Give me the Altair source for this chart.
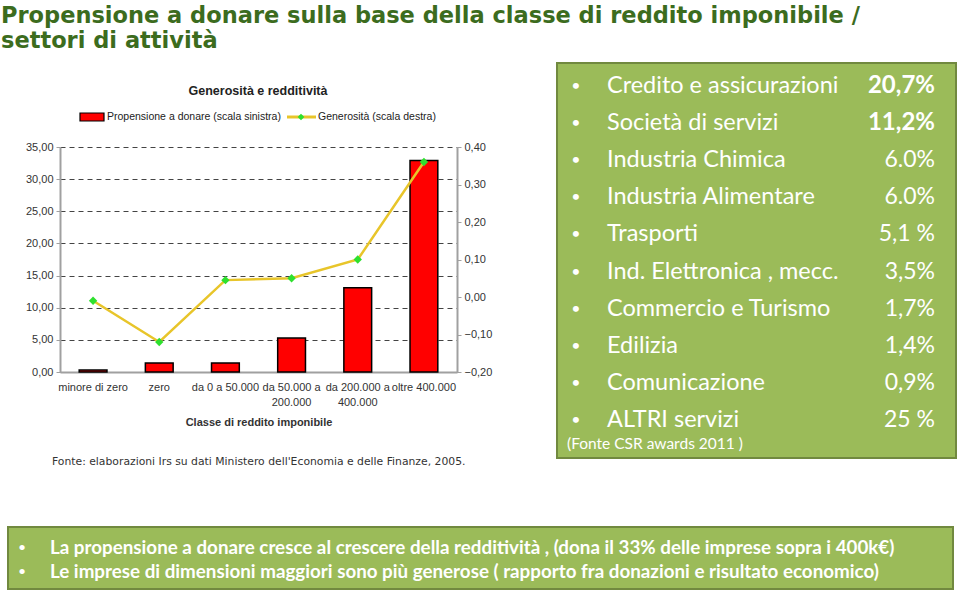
import altair as alt
import pandas as pd

# ---------------- data ----------------
slide_title = ["Propensione a donare sulla base della classe di reddito imponibile /",
               "settori di attività"]
chart_title = "Generosità e redditività"
legend_labels = ["Propensione a donare (scala sinistra)", "Generosità (scala destra)"]
categories = ["minore di zero", "zero", "da 0 a 50.000", "da 50.000 a 200.000",
              "da 200.000 a 400.000", "oltre 400.000"]
propensione = [0.3, 1.4, 1.4, 5.3, 13.1, 32.9]
generosita = [-0.01, -0.12, 0.045, 0.05, 0.10, 0.36]
x_title = "Classe di reddito imponibile"
left_ticks = [0, 5, 10, 15, 20, 25, 30, 35]
right_ticks = [-0.2, -0.1, 0.0, 0.1, 0.2, 0.3, 0.4]
chart_source = "Fonte: elaborazioni Irs su dati  Ministero dell'Economia e delle Finanze, 2005."

sectors = ["Credito e assicurazioni", "Società di servizi", "Industria Chimica",
           "Industria Alimentare", "Trasporti", "Ind. Elettronica , mecc.",
           "Commercio e Turismo", "Edilizia", "Comunicazione", "ALTRI servizi"]
sector_values = ["20,7%", "11,2%", "6.0%", "6.0%", "5,1 %", "3,5%", "1,7%", "1,4%", "0,9%", "25 %"]
sector_bold = [True, True, False, False, False, False, False, False, False, False]
sector_source = "(Fonte CSR awards 2011 )"

notes = ["La propensione a donare  cresce al crescere della redditività , (dona il 33% delle  imprese sopra i 400k€)",
         "Le imprese di dimensioni maggiori sono più generose  ( rapporto fra donazioni e risultato economico)"]

# ---------------- styles ----------------
GREEN_TITLE = "#3C6C1E"
BOX_FILL = "#9BBB59"
BOX_STROKE = "#71893F"
ARIAL = "Liberation Sans"
CAL = "Lato"

one = pd.DataFrame({"k": [0]})
num_fmt = "replace(format(datum.value, '.2f'), '.', ',')"

# ---------------- chart ----------------
df = pd.DataFrame({"cat": categories, "prop": propensione, "gen": generosita})

x_enc = alt.X(
    "cat:N", sort=categories,
    scale=alt.Scale(domain=categories, range=[60, 457], paddingInner=0.58, paddingOuter=0.29),
    axis=alt.Axis(
        title=x_title, orient="bottom", offset=-221, labelAngle=0,
        labelExpr="length(datum.label) > 14 ? [slice(datum.label, 0, lastindexof(datum.label, ' ')), slice(datum.label, lastindexof(datum.label, ' ') + 1)] : datum.label",
        labelFont=ARIAL, labelFontSize=11, labelColor="#333", labelPadding=9,
        labelLineHeight=15, tickSize=0, domainColor="#A0A0A0", domainWidth=2,
        titleFont=ARIAL, titleFontSize=11, titleFontWeight="bold", titleColor="#333",
        titlePadding=9, grid=False, labelLimit=200),
)

bars = alt.Chart(df).mark_bar(color="#FF0000", stroke="#000000", strokeWidth=1.5).encode(
    x=x_enc,
    y=alt.Y("prop:Q",
            scale=alt.Scale(domain=[0, 35], range=[372, 147], nice=False, zero=False),
            axis=alt.Axis(orient="left", offset=-60, values=left_ticks, labelExpr=num_fmt,
                          grid=True, gridDash=[5, 4], gridColor="#444", gridWidth=1,
                          domainColor="#A0A0A0", domainWidth=2, tickColor="#A0A0A0",
                          tickSize=4, labelFont=ARIAL, labelFontSize=11, labelColor="#333",
                          labelPadding=3, title=None)),
)

gen_y = alt.Y("gen:Q",
              scale=alt.Scale(domain=[-0.2, 0.4], range=[372, 147], nice=False, zero=False),
              axis=alt.Axis(orient="right", offset=-503, values=right_ticks, labelExpr=num_fmt,
                            grid=False, domainColor="#A0A0A0", domainWidth=2,
                            tickColor="#A0A0A0", tickSize=4, labelFont=ARIAL, labelFontSize=11,
                            labelColor="#333", labelPadding=3, title=None))

line = alt.Chart(df).mark_line(color="#E8C52A", strokeWidth=2.5).encode(x=alt.X("cat:N", sort=categories), y=gen_y)
pts = alt.Chart(df).mark_point(shape="diamond", filled=True, color="#2EE02E", size=70, opacity=1).encode(
    x=alt.X("cat:N", sort=categories), y=alt.Y("gen:Q"))

chart = alt.layer(bars, alt.layer(line, pts)).resolve_scale(y="independent")

ctitle = alt.Chart(one).mark_text(font=ARIAL, fontSize=12.5, fontWeight="bold", color="#222",
                                  align="center", baseline="middle").encode(
    x=alt.value(258), y=alt.value(91), text=alt.value(chart_title))

leg_rect = alt.Chart(one).mark_rect(fill="#FF0000", stroke="#000", strokeWidth=1.2).encode(
    x=alt.value(80), x2=alt.value(104), y=alt.value(113), y2=alt.value(121))
leg_t1 = alt.Chart(one).mark_text(font=ARIAL, fontSize=10.5, color="#222", align="left",
                                  baseline="middle").encode(
    x=alt.value(107), y=alt.value(117), text=alt.value(legend_labels[0]))
leg_line = alt.Chart(one).mark_rule(color="#E8C52A", strokeWidth=3).encode(
    x=alt.value(287), x2=alt.value(316), y=alt.value(117))
leg_pt = alt.Chart(one).mark_point(shape="diamond", filled=True, color="#2EE02E", size=45, opacity=1).encode(
    x=alt.value(301), y=alt.value(117))
leg_t2 = alt.Chart(one).mark_text(font=ARIAL, fontSize=10.5, color="#222", align="left",
                                  baseline="middle").encode(
    x=alt.value(318), y=alt.value(117), text=alt.value(legend_labels[1]))

csource = alt.Chart(one).mark_text(font="DejaVu Sans", fontSize=10.8, color="#333", align="left",
                                   baseline="middle").encode(
    x=alt.value(52), y=alt.value(462), text=alt.value(chart_source))

# ---------------- slide title ----------------
stitle = alt.Chart(one).mark_text(font="DejaVu Sans", fontSize=22.5, fontWeight="bold",
                                  color=GREEN_TITLE, align="left", baseline="alphabetic",
                                  lineHeight=25).encode(
    x=alt.value(1), y=alt.value(23), text=alt.value(slide_title))

# ---------------- right box ----------------
rbox = alt.Chart(one).mark_rect(fill=BOX_FILL, stroke=BOX_STROKE, strokeWidth=2).encode(
    x=alt.value(557), x2=alt.value(956), y=alt.value(63), y2=alt.value(458))

sec_df = pd.DataFrame({"row": list(range(len(sectors))), "label": sectors,
                       "value": sector_values, "bold": sector_bold})
row_y = alt.Y("row:Q", scale=alt.Scale(domain=[0, 9], range=[86, 420], nice=False, zero=False), axis=None)
sec_base = alt.Chart(sec_df)
s_bul = sec_base.mark_text(text="•", font=CAL, fontSize=16, color="white", align="center",
                           baseline="middle").encode(x=alt.value(576), y=row_y)
s_lab = sec_base.mark_text(font=CAL, fontSize=23.5, color="white", align="left",
                           baseline="middle").encode(x=alt.value(607), y=row_y, text="label:N")
s_val = sec_base.transform_filter("!datum.bold").mark_text(
    font=CAL, fontSize=23, color="white", align="right", baseline="middle").encode(
    x=alt.value(935), y=row_y, text="value:N")
s_valb = sec_base.transform_filter("datum.bold").mark_text(
    font=CAL, fontSize=24, fontWeight="bold", color="white", align="right", baseline="middle").encode(
    x=alt.value(935), y=row_y, text="value:N")
sectors_layer = alt.layer(s_bul, s_lab, s_val, s_valb)

ssource = alt.Chart(one).mark_text(font=CAL, fontSize=15.5, color="white", align="left",
                                   baseline="middle").encode(
    x=alt.value(567), y=alt.value(444), text=alt.value(sector_source))

# ---------------- bottom box ----------------
bbox = alt.Chart(one).mark_rect(fill=BOX_FILL, stroke=BOX_STROKE, strokeWidth=2).encode(
    x=alt.value(8), x2=alt.value(953), y=alt.value(527), y2=alt.value(589))
notes_df = pd.DataFrame({"row": [0, 1], "note": notes})
note_y = alt.Y("row:Q", scale=alt.Scale(domain=[0, 1], range=[548, 572], nice=False, zero=False), axis=None)
n_bul = alt.Chart(notes_df).mark_text(text="•", font=CAL, fontSize=14, color="white",
                                      align="center", baseline="middle").encode(x=alt.value(22), y=note_y)
n_txt = alt.Chart(notes_df).mark_text(font=CAL, fontSize=18.8, fontWeight="bold", color="white",
                                      align="left", baseline="middle").encode(
    x=alt.value(50), y=note_y, text="note:N")
notes_layer = alt.layer(n_bul, n_txt)

final = alt.layer(
    stitle, ctitle, leg_rect, leg_line, leg_pt, leg_t1, leg_t2, chart, csource,
    rbox, sectors_layer, ssource, bbox, notes_layer
).resolve_scale(x="independent", y="independent").properties(
    width=960, height=593, autosize=alt.AutoSizeParams(type="none"), padding=0,
    background="white"
).configure_view(stroke=None)

final.save("out.html", embed_options={"renderer": "svg", "actions": False})
